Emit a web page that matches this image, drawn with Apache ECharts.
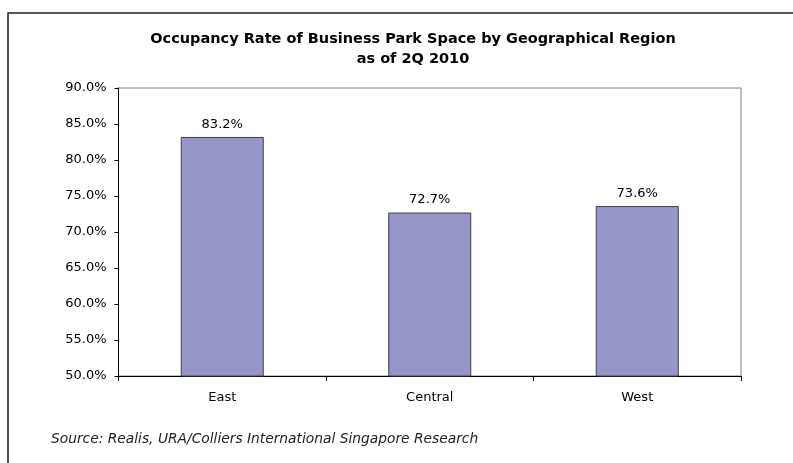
<!DOCTYPE html>
<html>
<head>
<meta charset="utf-8">
<script src="https://cdn.jsdelivr.net/npm/echarts@6/dist/echarts.min.js"></script>
<style>html,body{margin:0;padding:0;background:#fff;}#c{width:793px;height:463px;}</style>
</head>
<body>
<div id="c"></div>
<script>
const categories = ['East', 'Central', 'West'];
const occupancy = [83.2, 72.7, 73.6];
const yMin = 50, yMax = 90, yStep = 5;
const titleLines = ['Occupancy Rate of Business Park Space by Geographical Region', 'as of 2Q 2010'];
const sourceText = 'Source: Realis, URA/Colliers International Singapore Research';

const FONT = 'DejaVu Sans';
const chart = echarts.init(document.getElementById('c'), null, {renderer: 'canvas'});
chart.setOption({
  animation: false,
  backgroundColor: '#fff',
  title: {
    text: titleLines.join('\n'),
    left: 408, top: 24, textAlign: 'center',
    textStyle: {fontFamily: FONT, fontWeight: 'bold', fontSize: 14.5, lineHeight: 20, color: '#000'}
  },
  graphic: [
    {type: 'rect', shape: {x: 8, y: 13, width: 800, height: 500}, style: {fill: 'none', stroke: '#222', lineWidth: 1.5}, z: 0},
    {type: 'text', left: 51, top: 432, style: {text: sourceText, font: 'italic 13.8px "DejaVu Sans"', fill: '#222'}}
  ],
  grid: {left: 118.5, right: 52, top: 88, bottom: 87, show: true, borderColor: '#808080', borderWidth: 1},
  xAxis: {
    type: 'category', data: categories,
    axisLine: {lineStyle: {color: '#000', width: 1}},
    axisTick: {show: true, alignWithLabel: false, length: 5, lineStyle: {color: '#000'}},
    axisLabel: {fontFamily: FONT, fontSize: 13, color: '#000', margin: 15}
  },
  yAxis: {
    type: 'value', min: yMin, max: yMax, interval: yStep,
    axisLine: {show: true, lineStyle: {color: '#000', width: 1}},
    axisTick: {show: true, length: 4, lineStyle: {color: '#000'}},
    splitLine: {show: false},
    axisLabel: {fontFamily: FONT, fontSize: 13, color: '#000', margin: 12, formatter: v => v.toFixed(1) + '%'}
  },
  series: [{
    type: 'bar', data: occupancy, barWidth: '40%',
    itemStyle: {color: '#9696C8', borderColor: '#404040', borderWidth: 1},
    label: {show: true, position: 'top', distance: 6, fontFamily: FONT, fontSize: 13, color: '#000', formatter: p => p.value.toFixed(1) + '%'}
  }]
});
</script>
</body>
</html>
